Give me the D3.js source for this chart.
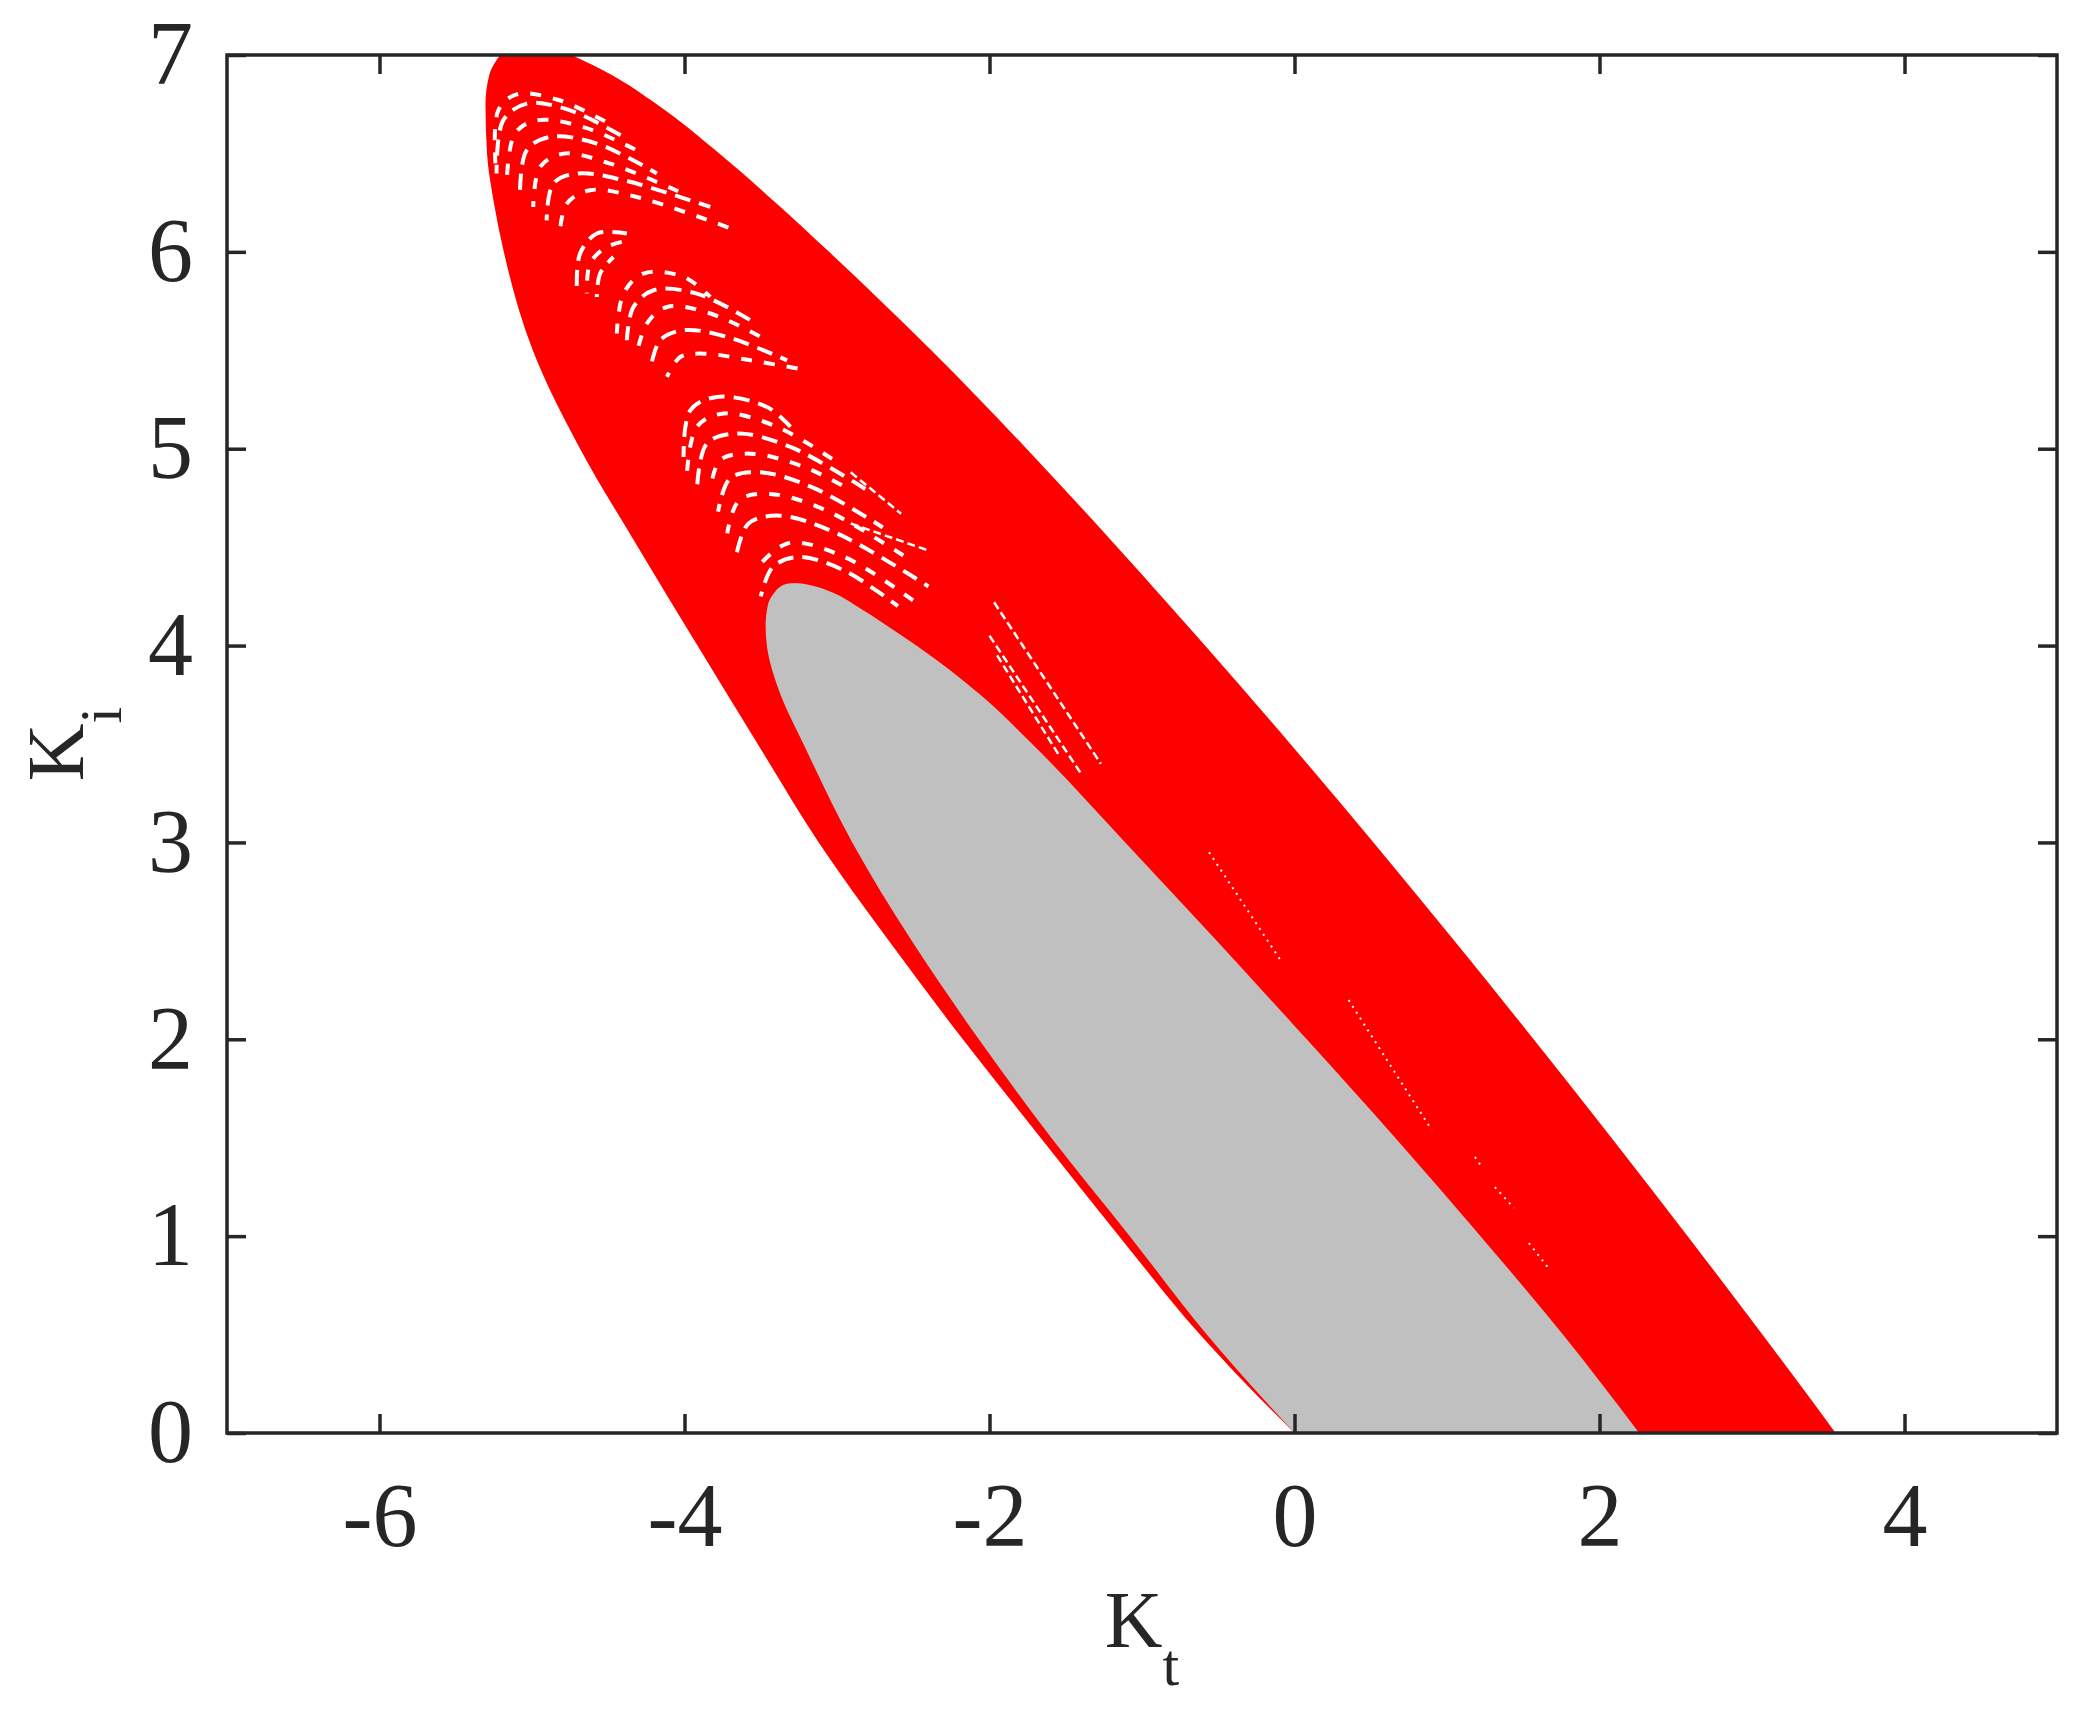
<!DOCTYPE html>
<html>
<head>
<meta charset="utf-8">
<script src="https://cdn.jsdelivr.net/npm/d3@7/dist/d3.min.js"></script>
<style>
  html, body { margin: 0; padding: 0; background: #fff; }
  svg { display: block; }
  .tick text { font-family: "Liberation Serif", "Times New Roman", serif; fill: #262626; }
  .label { font-family: "Liberation Serif", "Times New Roman", serif; fill: #262626; }
</style>
</head>
<body>
<svg id="chart" width="2090" height="1710"></svg>
<script>
// axis ticks
const xTicks = [-6, -4, -2, 0, 2, 4];
const yTicks = [0, 1, 2, 3, 4, 5, 6, 7];

// red region: Kt of its left and right edge at given Ki levels
const redKi      = [0, 0.25, 0.5, 1.0, 1.5, 2.0, 2.5, 3.0, 3.5, 4.0, 4.5, 5.0, 5.5, 6.0, 6.25, 6.5, 6.75, 6.9, 7.0];
const redLeftKt  = [0, -0.32, -0.62, -1.15, -1.665, -2.175, -2.66, -3.12, -3.52, -3.915, -4.305, -4.685, -4.995, -5.185, -5.25, -5.295, -5.305, -5.28, -5.21];
const redRightKt = [3.548, 3.31, 3.068, 2.578, 2.078, 1.568, 1.048, 0.518, -0.027, -0.587, -1.162, -1.757, -2.382, -3.052, -3.402, -3.772, -4.182, -4.48, -4.74];

// grey region
const grayKi      = [0, 0.5, 1.0, 1.5, 2.0, 2.5, 3.0, 3.5, 3.75, 4.0, 4.1, 4.2, 4.27, 4.30, 4.31, 4.315, 4.318];
const grayLeftKt  = [0, -0.575, -1.08, -1.595, -2.07, -2.51, -2.90, -3.22, -3.37, -3.46, -3.468, -3.455, -3.41, -3.37, -3.344, -3.318, -3.28];
const grayRightKt = [2.26, 1.76, 1.22, 0.66, 0.08, -0.51, -1.11, -1.72, -2.06, -2.48, -2.67, -2.87, -3.03, -3.14, -3.196, -3.235, -3.28];

// white gaps left between the swept red curves, [Kt, Ki]
const gapArcs = [
  [[-5.24, 6.45], [-5.22, 6.72], [-5.10, 6.80], [-4.82, 6.77], [-4.49, 6.65]],
  [[-5.232, 6.398], [-5.189, 6.668], [-5.035, 6.753], [-4.750, 6.719], [-4.400, 6.584]],
  [[-5.166, 6.347], [-5.112, 6.601], [-4.970, 6.668], [-4.663, 6.634], [-4.313, 6.516]],
  [[-5.079, 6.296], [-5.035, 6.516], [-4.882, 6.584], [-4.575, 6.550], [-4.181, 6.398]],
  [[-4.992, 6.228], [-4.947, 6.431], [-4.794, 6.499], [-4.488, 6.448], [-4.006, 6.296]],
  [[-4.904, 6.160], [-4.860, 6.347], [-4.706, 6.398], [-4.400, 6.364], [-3.831, 6.228]],
  [[-4.816, 6.110], [-4.772, 6.245], [-4.619, 6.313], [-4.313, 6.279], [-3.70, 6.12]],
  [[-4.706, 5.822], [-4.685, 5.991], [-4.575, 6.093], [-4.378, 6.093]],
  [[-4.641, 5.788], [-4.619, 5.940], [-4.510, 6.025], [-4.356, 6.059]],
  [[-4.575, 5.771], [-4.553, 5.890], [-4.466, 5.974]],
  [[-4.444, 5.585], [-4.400, 5.788], [-4.269, 5.890], [-4.006, 5.873], [-3.831, 5.771]],
  [[-4.378, 5.551], [-4.335, 5.720], [-4.203, 5.805], [-3.919, 5.788], [-3.568, 5.653]],
  [[-4.313, 5.483], [-4.247, 5.636], [-4.115, 5.720], [-3.831, 5.687], [-3.459, 5.551]],
  [[-4.225, 5.399], [-4.159, 5.551], [-4.006, 5.602], [-3.722, 5.568], [-3.327, 5.449]],
  [[-4.115, 5.365], [-4.028, 5.466], [-3.875, 5.483], [-3.568, 5.449], [-3.195, 5.399]],
  [[-4.006, 4.958], [-3.962, 5.195], [-3.788, 5.263], [-3.459, 5.212], [-3.305, 5.111]],
  [[-3.984, 4.874], [-3.919, 5.111], [-3.744, 5.179], [-3.393, 5.111], [-3.020, 4.942]],
  [[-3.919, 4.789], [-3.853, 5.026], [-3.656, 5.077], [-3.305, 5.009], [-2.801, 4.789]],
  [[-3.831, 4.789], [-3.766, 4.942], [-3.568, 4.975], [-3.217, 4.908], [-2.911, 4.789]],
  [[-3.78, 4.68], [-3.70, 4.85], [-3.50, 4.88], [-3.15, 4.80], [-2.70, 4.60]],
  [[-3.72, 4.57], [-3.64, 4.74], [-3.44, 4.77], [-3.08, 4.69], [-2.55, 4.45]],
  [[-3.66, 4.46], [-3.58, 4.62], [-3.38, 4.66], [-3.00, 4.57], [-2.40, 4.30]],
  [[-3.52, 4.40], [-3.32, 4.52], [-2.95, 4.45], [-2.45, 4.20]],
  [[-3.50, 4.25], [-3.42, 4.40], [-3.25, 4.45], [-2.95, 4.38], [-2.60, 4.20]]
];
const gapStreaks = [
  [[-1.97, 4.22], [-1.27, 3.40]],
  [[-2.00, 4.05], [-1.40, 3.35]],
  [[-1.95, 3.95], [-1.55, 3.45]],
  [[-2.91, 4.88], [-2.58, 4.67]],
  [[-2.91, 4.62], [-2.39, 4.48]]
];
const gapDots = [
  [[-0.56, 2.95], [-0.09, 2.40]],
  [[0.355, 2.199], [0.90, 1.539]],
  [[1.183, 1.402], [1.229, 1.351]],
  [[1.314, 1.249], [1.439, 1.143]],
  [[1.537, 0.965], [1.675, 0.828]]
];

const margin = { left: 227, right: 2057, top: 55, bottom: 1433 };
const svg = d3.select('#chart');

const x = d3.scaleLinear().domain([-7, 5]).range([margin.left, margin.right]);
const y = d3.scaleLinear().domain([0, 7]).range([margin.bottom, margin.top]);

svg.append('defs').append('clipPath').attr('id', 'plot-clip')
  .append('rect')
  .attr('x', x(-7)).attr('y', y(7))
  .attr('width', x(5) - x(-7)).attr('height', y(0) - y(7));

const band = (ki, left, right) => ki
  .map((k, i) => ({ ki: k, l: left[i], r: right[i] }))
  .sort((a, b) => b.ki - a.ki);

const area = d3.area()
  .y(d => y(d.ki))
  .x0(d => x(d.l))
  .x1(d => x(d.r))
  .curve(d3.curveMonotoneY);

const line = d3.line()
  .x(d => x(d[0]))
  .y(d => y(d[1]))
  .curve(d3.curveCatmullRom.alpha(0.5));

const plot = svg.append('g').attr('clip-path', 'url(#plot-clip)');

plot.append('path')
  .attr('class', 'red-region')
  .attr('d', area(band(redKi, redLeftKt, redRightKt)))
  .attr('fill', '#ff0000');

plot.selectAll('path.gap-arc').data(gapArcs).join('path')
  .attr('class', 'gap-arc')
  .attr('d', line)
  .attr('fill', 'none')
  .attr('stroke', '#fff')
  .attr('stroke-width', 4)
  .attr('stroke-dasharray', (d, i) => i % 2 ? '16 9' : '11 12')
  .attr('stroke-dashoffset', (d, i) => i * 7);

plot.selectAll('path.gap-streak').data(gapStreaks).join('path')
  .attr('class', 'gap-streak')
  .attr('d', line)
  .attr('fill', 'none')
  .attr('stroke', '#fff')
  .attr('stroke-width', 2.5)
  .attr('stroke-dasharray', '8 4');

plot.selectAll('path.gap-dot').data(gapDots).join('path')
  .attr('class', 'gap-dot')
  .attr('d', line)
  .attr('fill', 'none')
  .attr('stroke', '#fff')
  .attr('stroke-width', 2)
  .attr('stroke-dasharray', '2 5');

plot.append('path')
  .attr('class', 'gray-region')
  .attr('d', area(band(grayKi, grayLeftKt, grayRightKt)))
  .attr('fill', '#c0c0c0');

// axes, ticks pointing in on all four sides
const fmt = d => String(d);
const tickLen = 19;
const fontSize = 90;

const gx = svg.append('g').attr('transform', `translate(0,${y(0)})`)
  .call(d3.axisBottom(x).tickValues(xTicks).tickFormat(fmt).tickSizeInner(-tickLen).tickSizeOuter(0).tickPadding(49));
const gxTop = svg.append('g').attr('transform', `translate(0,${y(7)})`)
  .call(d3.axisTop(x).tickValues(xTicks).tickFormat('').tickSizeInner(-tickLen).tickSizeOuter(0));
const gy = svg.append('g').attr('transform', `translate(${x(-7)},0)`)
  .call(d3.axisLeft(y).tickValues(yTicks).tickFormat(fmt).tickSizeInner(-tickLen).tickSizeOuter(0).tickPadding(34));
const gyRight = svg.append('g').attr('transform', `translate(${x(5)},0)`)
  .call(d3.axisRight(y).tickValues(yTicks).tickFormat('').tickSizeInner(-tickLen).tickSizeOuter(0));

[gx, gxTop, gy, gyRight].forEach(g => {
  g.select('.domain').remove();
  g.selectAll('.tick line').attr('stroke', '#262626').attr('stroke-width', 3.5);
  g.selectAll('.tick text').attr('font-size', fontSize);
});

// box
svg.append('rect')
  .attr('x', x(-7)).attr('y', y(7))
  .attr('width', x(5) - x(-7)).attr('height', y(0) - y(7))
  .attr('fill', 'none')
  .attr('stroke', '#262626')
  .attr('stroke-width', 3.5);

// axis labels
const xl = svg.append('text').attr('class', 'label')
  .attr('x', (x(-7) + x(5)) / 2).attr('y', 1647)
  .attr('text-anchor', 'middle').attr('font-size', 80);
xl.append('tspan').text('K');
xl.append('tspan').attr('font-size', 60).attr('dy', 38).text('t');

const yl = svg.append('text').attr('class', 'label')
  .attr('transform', `translate(83,${(y(0) + y(7)) / 2}) rotate(-90)`)
  .attr('text-anchor', 'middle').attr('font-size', 80);
yl.append('tspan').text('K');
yl.append('tspan').attr('font-size', 60).attr('dy', 38).text('i');
</script>
</body>
</html>
